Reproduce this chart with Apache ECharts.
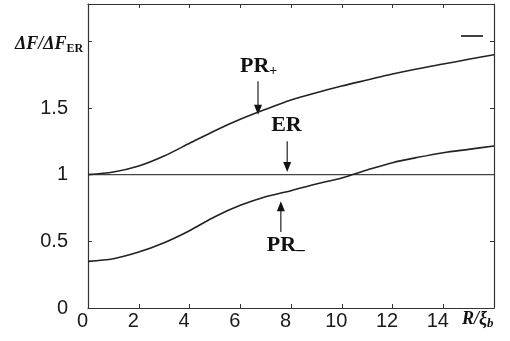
<!DOCTYPE html>
<html><head><meta charset="utf-8">
<script src="https://cdn.jsdelivr.net/npm/echarts@6/dist/echarts.min.js"></script>
<style>html,body{margin:0;padding:0;background:#fff}#c{width:510px;height:341px}</style>
</head><body><div id="c"></div>
<script>
const R = [0,1,2,3,4,5,6,7,8,9,10,11,12,13,14,15,16];
const prPlus  = [1.0,1.02,1.065,1.14,1.235,1.33,1.415,1.49,1.56,1.615,1.665,1.71,1.755,1.795,1.83,1.865,1.9];
const prMinus = [0.35,0.37,0.42,0.49,0.58,0.685,0.77,0.835,0.88,0.93,0.975,1.035,1.09,1.13,1.165,1.19,1.215];
const er      = [1,1,1,1,1,1,1,1,1,1,1,1,1,1,1,1,1];
const xTickLabels = ['0','2','4','6','8','10','12','14'];
const yTickLabels = ['0','0.5','1','1.5'];

const pair = a => a.map((v,i)=>[R[i],v]);
const chart = echarts.init(document.getElementById('c'));
const lbl = {fontFamily:'Liberation Sans',fontSize:20,color:'#1a1a1a'};
const axLine = {onZero:false,lineStyle:{color:'#333',width:1.2}};
const tick = {inside:true,length:4,lineStyle:{color:'#333',width:1}};
chart.setOption({
  animation:false,
  grid:{left:88,right:16,top:4,bottom:33},
  xAxis:[
    {type:'value',min:0,max:16,interval:2,axisLine:axLine,axisTick:tick,splitLine:{show:false},
     axisLabel:Object.assign({margin:3,padding:[0,11,0,0]},lbl,{formatter:v=>{const s=String(v);return xTickLabels.includes(s)?s:'';}})},
    {type:'value',position:'top',min:0,max:16,interval:2,axisLine:axLine,axisTick:tick,splitLine:{show:false},axisLabel:{show:false}}
  ],
  yAxis:[
    {type:'value',min:0,max:2.28,interval:0.5,axisLine:axLine,axisTick:tick,splitLine:{show:false},
     axisLabel:Object.assign({margin:20},lbl,{formatter:v=>{const s=String(v);return yTickLabels.includes(s)?s:'';}})},
    {type:'value',position:'right',min:0,max:2.28,interval:0.5,axisLine:axLine,axisTick:tick,splitLine:{show:false},axisLabel:{show:false}}
  ],
  series:[
    {type:'line',data:pair(er),showSymbol:false,lineStyle:{color:'#444',width:1.3},z:2},
    {type:'line',data:pair(prPlus),showSymbol:false,smooth:0.3,lineStyle:{color:'#222',width:1.6},z:3},
    {type:'line',data:pair(prMinus),showSymbol:false,smooth:0.3,lineStyle:{color:'#222',width:1.6},z:3}
  ]
});

function px(x,y){return chart.convertToPixel({xAxisIndex:0,yAxisIndex:0},[x,y]);}
function arrow(x,yFrom,yTo){
  const a=px(x,yFrom), b=px(x,yTo);
  const dir = b[1]>a[1]?1:-1;
  return [
    {type:'line',shape:{x1:a[0],y1:a[1],x2:b[0],y2:b[1]-dir*8},style:{stroke:'#222',lineWidth:1.2}},
    {type:'polygon',shape:{points:[[b[0],b[1]],[b[0]-4,b[1]-dir*10],[b[0]+4,b[1]-dir*10]]},style:{fill:'#111'}}
  ];
}
const serifB = {fontFamily:'Liberation Serif',fontWeight:'bold',fill:'#111'};
const pPlus = px(6.7,1.72), pEr = px(7.85,1.0), pMinus = px(7.6,0.52);
const g = [].concat(
  arrow(6.7,1.7,1.45),
  arrow(7.85,1.25,1.02),
  arrow(7.6,0.57,0.80),
  [
    {type:'text',x:pPlus[0]-18,y:pPlus[1]-24,style:{text:'{a|PR}{s|+}',rich:{a:Object.assign({fontSize:22},serifB),s:Object.assign({fontSize:14,padding:[10,0,0,0]},serifB)}}},
    {type:'text',x:pEr[0]-16,y:px(0,1.36)[1]-12,style:Object.assign({text:'ER',fontSize:22},serifB)},
    {type:'text',x:pMinus[0]-14,y:pMinus[1]-7,style:{text:'{a|PR}{s|–}',rich:{a:Object.assign({fontSize:22},serifB),s:Object.assign({fontSize:17,padding:[10,0,0,0]},serifB)}}},
    {type:'text',x:15,y:34,style:{text:'{a|ΔF/ΔF}{s|ER}',rich:{a:Object.assign({fontSize:18,fontStyle:'italic'},serifB),s:Object.assign({fontSize:12,padding:[9,0,0,0]},serifB)}}},
    {type:'text',x:462,y:309,style:{text:'{a|R/ξ}{s|b}',rich:{a:Object.assign({fontSize:18,fontStyle:'italic'},serifB),s:Object.assign({fontSize:13,fontStyle:'italic',padding:[8,0,0,0]},serifB)}}},
    {type:'line',shape:{x1:461,y1:36,x2:483,y2:36},style:{stroke:'#111',lineWidth:1.6}}
  ]
);
chart.setOption({graphic:g});
</script></body></html>
